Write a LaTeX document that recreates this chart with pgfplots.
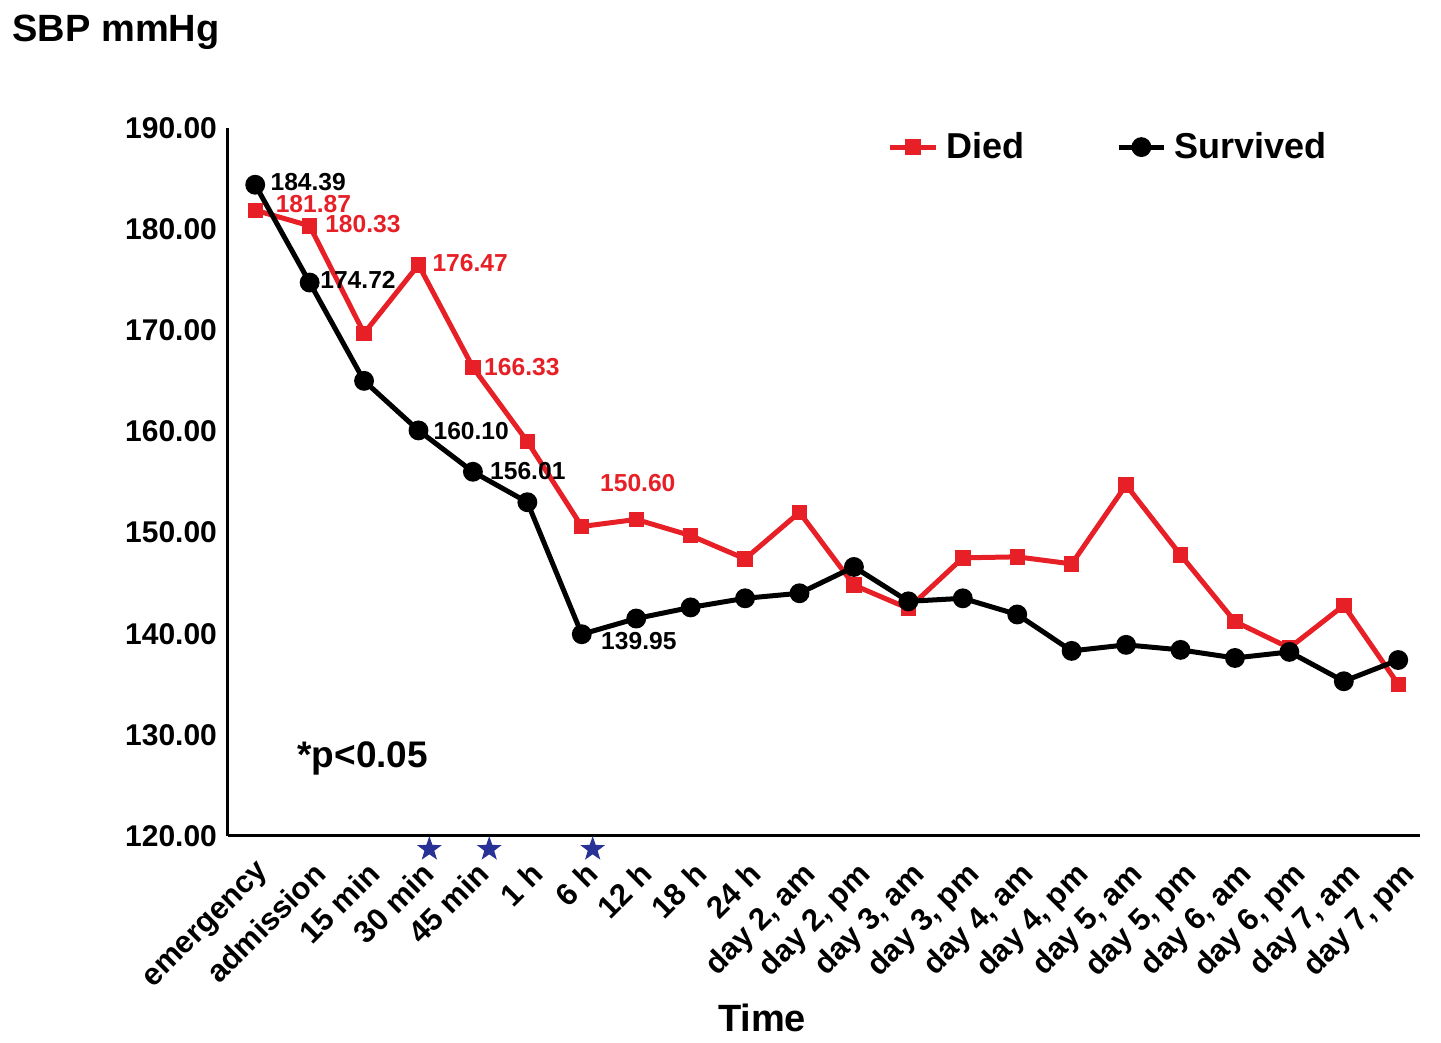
\documentclass[border=0pt]{standalone}
\usepackage{fontspec}
\setmainfont{Liberation Sans}
\usepackage{pgfplots}
\pgfplotsset{compat=1.18}
\definecolor{died}{RGB}{230,32,38}
\definecolor{stars}{RGB}{40,50,150}
% filled five-point star
\pgfdeclareplotmark{fstar}{%
  \pgfpathmoveto{\pgfpointpolar{90}{\pgfplotmarksize}}%
  \pgfpathlineto{\pgfpointpolar{126}{0.4\pgfplotmarksize}}%
  \pgfpathlineto{\pgfpointpolar{162}{\pgfplotmarksize}}%
  \pgfpathlineto{\pgfpointpolar{198}{0.4\pgfplotmarksize}}%
  \pgfpathlineto{\pgfpointpolar{234}{\pgfplotmarksize}}%
  \pgfpathlineto{\pgfpointpolar{270}{0.4\pgfplotmarksize}}%
  \pgfpathlineto{\pgfpointpolar{306}{\pgfplotmarksize}}%
  \pgfpathlineto{\pgfpointpolar{342}{0.4\pgfplotmarksize}}%
  \pgfpathlineto{\pgfpointpolar{18}{\pgfplotmarksize}}%
  \pgfpathlineto{\pgfpointpolar{54}{0.4\pgfplotmarksize}}%
  \pgfpathclose\pgfusepathqfill}
\begin{document}
\begin{tikzpicture}
\begin{axis}[
  name=ax,
  scale only axis,
  width=596pt, height=354pt,
  xmin=-0.5, xmax=21.4,
  ymin=120, ymax=190,
  clip=false,
  axis x line=bottom, axis y line=left,
  axis line style={-, line width=1.5pt},
  major tick length=0pt,
  ytick={120,130,...,190},
  yticklabel style={/pgf/number format/fixed, /pgf/number format/fixed zerofill,
    /pgf/number format/precision=2, /pgf/number format/assume math mode=true,
    font=\fontsize{15}{17}\selectfont\bfseries, xshift=-2pt},
  xtick={0,...,21},
  xticklabels={emergency, admission, 15 min, 30 min, 45 min, 1 h, 6 h, 12 h, 18 h, 24 h,
    {day 2, am}, {day 2, pm}, {day 3, am}, {day 3, pm}, {day 4, am}, {day 4, pm},
    {day 5, am}, {day 5, pm}, {day 6, am}, {day 6, pm}, {day 7, am}, {day 7, pm}},
  xticklabel style={font=\fontsize{15.5}{17}\selectfont\bfseries, yshift=-12pt, xshift=1pt, rotate=45, anchor=north east, inner sep=0pt},
  xlabel={Time},
  xlabel style={font=\fontsize{19}{22}\selectfont\bfseries, at={(axis description cs:0.448,-0.257)}, anchor=center},
  legend columns=2,
  legend style={draw=none, fill=none, at={(axis description cs:0.548,0.973)}, anchor=west,
    font=\fontsize{18}{20}\selectfont\bfseries,
    /tikz/every even column/.append style={column sep=44pt},
    /tikz/every odd column/.append style={column sep=2pt}},
  legend image code/.code={\draw[mark repeat=2,mark phase=2] plot coordinates {(0cm,0cm)(0.4cm,0cm)(0.8cm,0cm)};},
]
\addplot[died, line width=2.5pt, mark=square*, mark size=2.6pt, mark options={solid}] coordinates {
  (0,181.87) (1,180.33) (2,169.7) (3,176.47) (4,166.33) (5,159.0) (6,150.60)
  (7,151.3) (8,149.7) (9,147.4) (10,152.0) (11,144.8) (12,142.5) (13,147.5)
  (14,147.6) (15,146.9) (16,154.7) (17,147.8) (18,141.2) (19,138.6) (20,142.8) (21,135.0)
};
\addlegendentry{Died}
\addplot[black, line width=2.5pt, mark=*, mark size=3.7pt] coordinates {
  (0,184.39) (1,174.72) (2,165.0) (3,160.10) (4,156.01) (5,153.0) (6,139.95)
  (7,141.5) (8,142.6) (9,143.5) (10,144.0) (11,146.6) (12,143.2) (13,143.5)
  (14,141.9) (15,138.3) (16,138.9) (17,138.4) (18,137.6) (19,138.2) (20,135.3) (21,137.4)
};
\addlegendentry{Survived}
\addplot[stars, only marks, mark=fstar, mark size=6.5pt, forget plot] coordinates {
  (3.2,118.7) (4.3,118.7) (6.2,118.7)
};
\begin{scope}[font=\fontsize{12.3}{14}\selectfont\bfseries, inner sep=0pt]
\node[anchor=west] at (axis cs:0.275,184.66) {184.39};
\node[anchor=west, died] at (axis cs:0.37,182.49) {181.87};
\node[anchor=west, died] at (axis cs:1.28,180.51) {180.33};
\node[anchor=west] at (axis cs:1.19,174.97) {174.72};
\node[anchor=west, died] at (axis cs:3.25,176.65) {176.47};
\node[anchor=west, died] at (axis cs:4.20,166.37) {166.33};
\node[anchor=west] at (axis cs:3.27,160.04) {160.10};
\node[anchor=west] at (axis cs:4.31,156.09) {156.01};
\node[anchor=west, died] at (axis cs:6.33,154.90) {150.60};
\node[anchor=west] at (axis cs:6.35,139.28) {139.95};
\end{scope}
\node[anchor=west, inner sep=0pt, font=\fontsize{18.5}{21}\selectfont\bfseries] at (axis cs:0.77,127.71) {*p<0.05};
\node[anchor=west, inner sep=0pt, font=\fontsize{19}{22}\selectfont\bfseries] at (rel axis cs:-0.181,1.135) {SBP mmHg};
\end{axis}
\pgfresetboundingbox
\path[use as bounding box] (ax.south west) ++(-114pt,-103.5pt) rectangle ++(720.5pt,521.5pt);
\end{tikzpicture}
\end{document}
